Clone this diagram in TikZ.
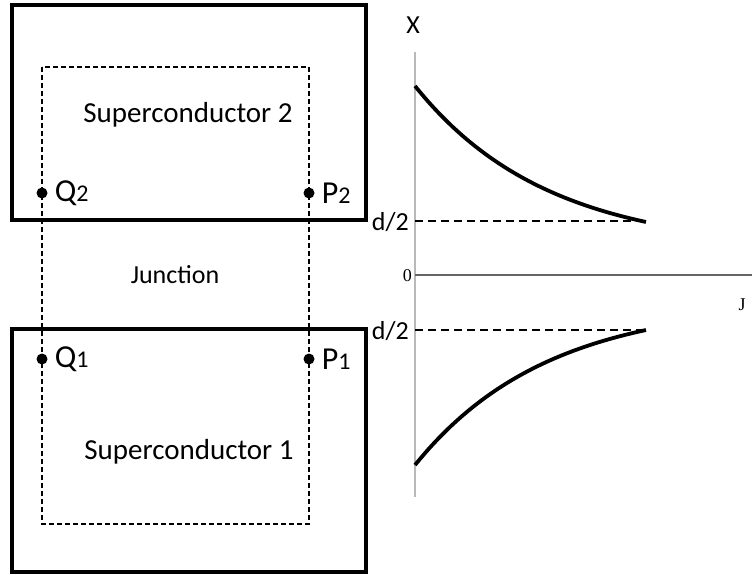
\documentclass[tikz,border=0pt]{standalone}
\usepackage{fontspec}
\setmainfont{Carlito}
\newfontfamily\axisfont{Liberation Serif}
\usetikzlibrary{positioning}

\begin{document}
\begin{tikzpicture}[x=1pt,y=-1pt,line join=miter,
  box/.style={line width=3.4pt},
  loop/.style={line width=1.8pt,dash pattern=on 5pt off 3pt},
  level/.style={line width=2.8pt,dash pattern=on 8pt off 5pt},
  curve/.style={line width=3.8pt},
  dot/.style={circle,fill=black,inner sep=0pt,minimum size=11pt},
  lbl/.style={font=\fontsize{26}{30}\selectfont,inner sep=0pt},
  big/.style={font=\fontsize{29}{33}\selectfont,inner sep=0pt},
  pnt/.style={font=\fontsize{32}{34}\selectfont,inner sep=0pt},
  tick/.style={font=\axisfont\fontsize{18}{20}\selectfont,inner sep=0pt}]
  \useasboundingbox (0,0) rectangle (752,574);

  % superconductors and the closed path
  \draw[box] (12,5) rectangle (366,220);
  \draw[box] (12,329) rectangle (366,572);
  \draw[loop] (42,67) rectangle (309,524);

  \node[big,anchor=base] (sc2) at (188,122) {Superconductor 2};
  \node[lbl,anchor=base] (jn) at (175,283) {Junction};
  \node[big,anchor=base] (sc1) at (189,459) {Superconductor 1};

  % points on the path
  \node[dot] (Q2) at (42,193) {};
  \node[dot] (P2) at (309,193) {};
  \node[dot] (Q1) at (42,359) {};
  \node[dot] (P1) at (309,359) {};
  \node[pnt,right=7pt of Q2] {Q{\fontsize{24}{26}\selectfont 2}};
  \node[pnt,right=7pt of P2] {P{\fontsize{24}{26}\selectfont 2}};
  \node[pnt,right=7pt of Q1] {Q{\fontsize{24}{26}\selectfont 1}};
  \node[pnt,right=7pt of P1] {P{\fontsize{24}{26}\selectfont 1}};

  % axes
  \coordinate (O) at (415,275);
  \draw[gray!55,line width=1.2pt] (415,52) -- (415,497);
  \draw[black!60,line width=1.5pt] (O) -- (752,275);
  \node[lbl] (X) at (413,25) {X};
  \node[tick,anchor=east] (zero) at (412,276) {0};
  \node[tick] (J) at (742,305) {J};

  % levels d/2
  \node[lbl,anchor=east] (dtop) at (409,222) {d/2};
  \node[lbl,anchor=east] (dbot) at (409,331) {d/2};
  \draw[level] (415,221) -- (645,221);
  \draw[level] (415,330) -- (645,330);

  % curves
  \draw[curve] plot[domain=0:1,samples=50]
    ({415+231*\x},{222-136*(exp(-1.75*\x)-exp(-1.75))/(1-exp(-1.75))});
  \draw[curve] plot[domain=0:1,samples=50]
    ({415+231*\x},{330+135*(exp(-1.75*\x)-exp(-1.75))/(1-exp(-1.75))});
\end{tikzpicture}
\end{document}
